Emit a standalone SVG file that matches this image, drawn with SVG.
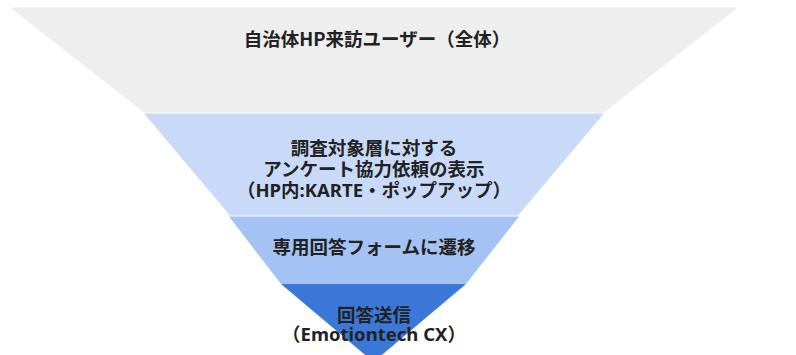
<svg xmlns="http://www.w3.org/2000/svg" width="796" height="355" viewBox="0 0 796 355">
<style>
text{font-family:"Noto Sans","Noto Sans CJK JP",sans-serif;font-weight:bold;font-size:18.5px;fill:#222222;text-anchor:middle}
text.cjk{font-family:"Noto Sans CJK JP","Noto Sans",sans-serif}
</style>
<rect width="796" height="355" fill="#ffffff"/>
<g id="level1">
<polygon points="10,7.5 738,7.5 604,112.5 144,112.5" fill="#eeeeee"/>
<text class="cjk" x="377" y="46">自治体HP来訪ユーザー（全体）</text>
</g>
<g id="level2">
<polygon points="144,113.5 604,113.5 518,215.5 230,215.5" fill="#c9daf8"/>
<text x="374" y="155">調査対象層に対する</text>
<text x="374" y="176">アンケート協力依頼の表示</text>
<text x="374" y="197">（HP内:KARTE・ポップアップ）</text>
</g>
<g id="level3">
<polygon points="229,216.5 519,216.5 466,284 281,284" fill="#a4c2f4"/>
<text x="374" y="253.5">専用回答フォームに遷移</text>
</g>
<g id="level4">
<polygon points="281,284 466,284 373.5,362" fill="#3c78d8"/>
<text x="374" y="321.5">回答送信</text>
<text x="374" y="341">（Emotiontech CX）</text>
</g>
<g id="connectors"></g>
</svg>
